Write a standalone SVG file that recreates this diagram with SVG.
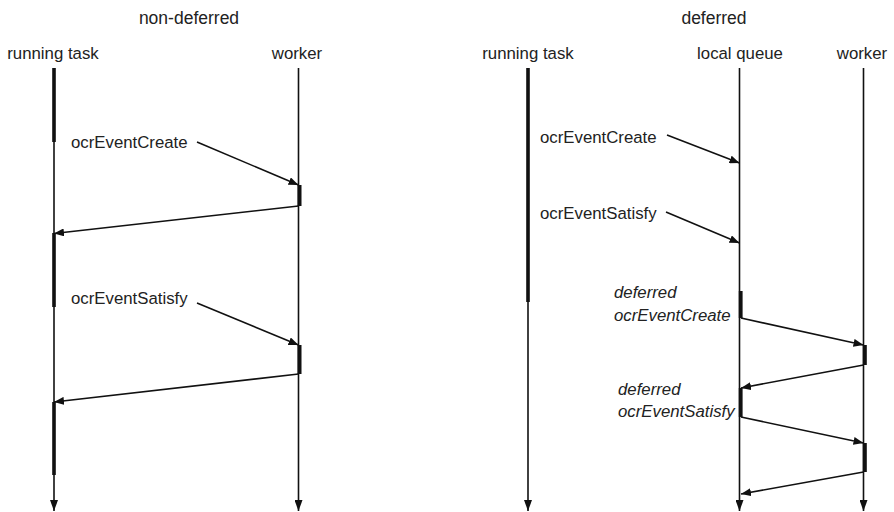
<svg xmlns="http://www.w3.org/2000/svg" width="894" height="512" viewBox="0 0 894 512">
<style>
text{font-family:"Liberation Sans",Arial,sans-serif;fill:#222;}
.h{font-size:16.8px;}
.t{font-size:17.5px;}
.l{font-size:16.8px;}
.i{font-size:16.8px;font-style:italic;}
.life{stroke:#111;stroke-width:1.6;fill:none;}
.msg{stroke:#111;stroke-width:1.6;fill:none;marker-end:url(#ah);}
.bar{fill:#111;}
</style>
<defs>
<marker id="ah" markerUnits="userSpaceOnUse" markerWidth="10" markerHeight="8" refX="10" refY="4" orient="auto">
<path d="M0,0 L10,4 L0,8 z" fill="#111"/>
</marker>
<marker id="end" markerUnits="userSpaceOnUse" markerWidth="11" markerHeight="8" refX="11" refY="4" orient="auto">
<path d="M0,0 L11,4 L0,8 z" fill="#111"/>
</marker>
</defs>
<rect width="894" height="512" fill="#fff"/>
<text class="t" x="189" y="24" text-anchor="middle">non-deferred</text>
<text class="t" x="714" y="24" text-anchor="middle">deferred</text>

<g id="nd-running-task">
<text class="h" x="53" y="59" text-anchor="middle">running task</text>
<line class="life" x1="54" y1="68" x2="54" y2="511" marker-end="url(#end)"/>
<rect class="bar" x="52.2" y="68" width="3.6" height="74"/>
<rect class="bar" x="52.2" y="233" width="3.6" height="74"/>
<rect class="bar" x="52.2" y="402" width="3.6" height="73"/>
</g>
<g id="nd-worker">
<text class="h" x="297" y="59" text-anchor="middle">worker</text>
<line class="life" x1="298.5" y1="68" x2="298.5" y2="511" marker-end="url(#end)"/>
<rect class="bar" x="297.5" y="185" width="4" height="21"/>
<rect class="bar" x="297.5" y="345" width="4" height="29"/>
</g>

<g id="d-running-task">
<text class="h" x="528" y="59" text-anchor="middle">running task</text>
<line class="life" x1="528" y1="68" x2="528" y2="511" marker-end="url(#end)"/>
<rect class="bar" x="526.2" y="68" width="3.6" height="234"/>
</g>
<g id="d-local-queue">
<text class="h" x="740" y="59" text-anchor="middle">local queue</text>
<line class="life" x1="739.5" y1="68" x2="739.5" y2="511" marker-end="url(#end)"/>
<rect class="bar" x="738.8" y="291" width="3.8" height="27"/>
<rect class="bar" x="738.8" y="388" width="3.8" height="29"/>
</g>
<g id="d-worker">
<text class="h" x="862" y="59" text-anchor="middle">worker</text>
<line class="life" x1="863.5" y1="68" x2="863.5" y2="511" marker-end="url(#end)"/>
<rect class="bar" x="862.8" y="345" width="4" height="20"/>
<rect class="bar" x="862.8" y="443" width="4" height="29"/>
</g>

<g id="labels">
<text class="l" x="71" y="148">ocrEventCreate</text>
<text class="l" x="71" y="304">ocrEventSatisfy</text>
<text class="l" x="540" y="143">ocrEventCreate</text>
<text class="l" x="540" y="219">ocrEventSatisfy</text>
<text class="i" x="614" y="298">deferred</text>
<text class="i" x="614" y="321">ocrEventCreate</text>
<text class="i" x="618" y="395">deferred</text>
<text class="i" x="618" y="417">ocrEventSatisfy</text>
</g>

<g id="connectors">
<line class="msg" x1="197" y1="142" x2="298.5" y2="185"/>
<line class="msg" x1="298.5" y1="206" x2="54" y2="233.5"/>
<line class="msg" x1="197" y1="303" x2="298.5" y2="345"/>
<line class="msg" x1="298.5" y1="374" x2="54" y2="402"/>
<line class="msg" x1="667" y1="135" x2="739.5" y2="163"/>
<line class="msg" x1="666" y1="212" x2="739.5" y2="243"/>
<line class="msg" x1="741" y1="318" x2="863.5" y2="345"/>
<line class="msg" x1="863.5" y1="365" x2="741" y2="388"/>
<line class="msg" x1="741" y1="417" x2="863.5" y2="443"/>
<line class="msg" x1="863.5" y1="472" x2="741" y2="494"/>
</g>
</svg>
